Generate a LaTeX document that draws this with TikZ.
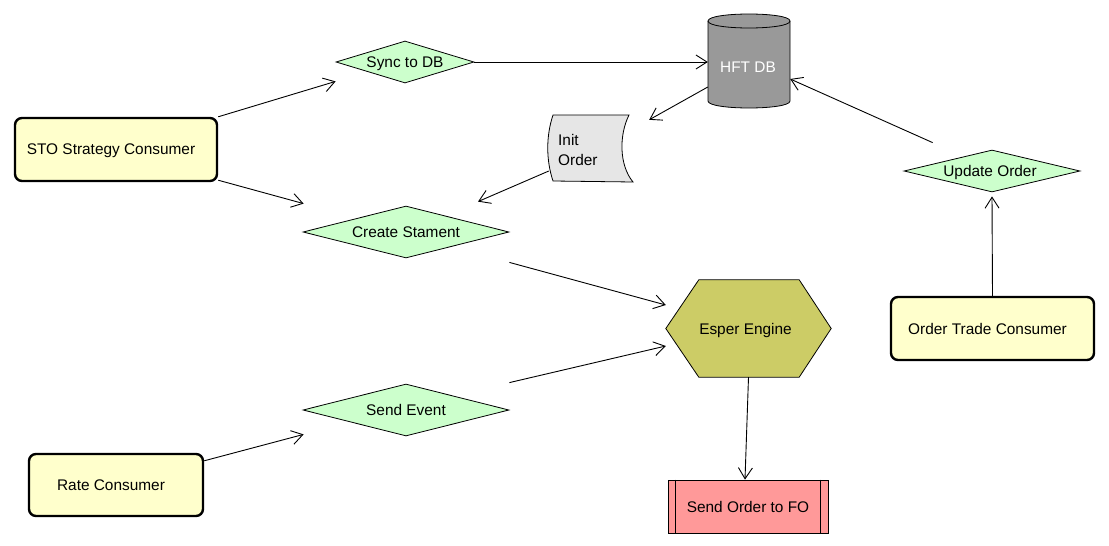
\documentclass[tikz,border=0pt]{standalone}
\usepackage{fontspec}
\setmainfont{Liberation Sans}
\usetikzlibrary{shapes.geometric,arrows.meta,calc,backgrounds}
\definecolor{consfill}{HTML}{FFFFCC}
\definecolor{decfill}{HTML}{CCFFCC}
\definecolor{dbfill}{HTML}{999999}
\definecolor{initfill}{HTML}{E6E6E6}
\definecolor{esperfill}{HTML}{CCCC66}
\definecolor{fofill}{HTML}{FF9999}
\begin{document}
\begin{tikzpicture}[x=1pt,y=-1pt,
  every node/.style={font=\fontsize{15.4}{19.5}\selectfont, inner sep=0pt, text depth=0pt},
  consumer/.style={draw, line width=2.4pt, rounded corners=7pt, fill=consfill},
  decision/.style={diamond, draw, line width=0.8pt, fill=decfill},
  shapeline/.style={draw, line width=0.8pt},
  arr/.style={draw, line width=0.9pt, -{Straight Barb[length=11pt,width=14pt]}}]
\useasboundingbox (0,0) rectangle (1109,546);

% consumers
\node[consumer, minimum width=202, minimum height=63] (sto) at (116,149.5) {STO Strategy Consumer\hspace*{10pt}};
\node[consumer, minimum width=174, minimum height=62] (rate) at (116,485) {Rate Consumer\hspace*{10pt}};
\node[consumer, minimum width=203, minimum height=63] (ot) at (992.5,328.5) {Order Trade Consumer\hspace*{10pt}};

% decisions
\node[decision, aspect=3.29, minimum width=138, minimum height=42] (sync) at (405,62) {Sync to DB};
\node[decision, aspect=3.96, minimum width=206, minimum height=52] (create) at (406,232) {Create Stament};
\node[decision, aspect=3.96, minimum width=206, minimum height=52] (send) at (406,410) {Send Event};
\node[decision, aspect=4.19, minimum width=176, minimum height=42] (upd) at (992,171) {Update Order\hspace*{4pt}};

% database
\node[minimum width=82, minimum height=95] (hft) at (749,60.5) {};
\node[text=white] (hftlabel) at (748,67.5) {HFT DB};

% init order
\node[minimum width=85, minimum height=67] (init) at (590.5,148.5) {};
\node[anchor=west, align=left, text depth=] (initlabel) at (558,150) {Init\\Order};

% esper engine
\node[minimum width=165, minimum height=97] (esper) at (748.5,328.5) {Esper Engine\hspace*{6pt}};

% send order to FO
\node[shapeline, fill=fofill, minimum width=160, minimum height=53] (fo) at (748,506.5) {Send Order to FO};
\draw[shapeline] ($(fo.north west)+(8,0)$) -- ($(fo.south west)+(8,0)$);
\draw[shapeline] ($(fo.north east)+(-8,0)$) -- ($(fo.south east)+(-8,0)$);

\begin{pgfonlayer}{background}
  % cylinder
  \fill[dbfill] (708,21) -- (708,101) .. controls (708,110.33) and (790,110.33) .. (790,101)
     -- (790,21) .. controls (790,11.67) and (708,11.67) .. (708,21) -- cycle;
  \draw[shapeline] (708,21) -- (708,101) .. controls (708,110.33) and (790,110.33) .. (790,101) -- (790,21);
  \draw[shapeline] (708,21) .. controls (708,11.67) and (790,11.67) .. (790,21)
     .. controls (790,30.33) and (708,30.33) .. (708,21) -- cycle;
  % stored data
  \draw[shapeline, fill=initfill] (553,115) -- (629,115) .. controls (619,135) and (619,165) .. (633,182)
     -- (553,181) .. controls (546,160) and (546,136) .. (553,115) -- cycle;
  % hexagon
  \draw[shapeline, fill=esperfill] (esper.west) -- ($(esper.north west)+(33,0)$) -- ($(esper.north east)+(-32,0)$)
     -- (esper.east) -- ($(esper.south east)+(-32,0)$) -- ($(esper.south west)+(33,0)$) -- cycle;
\end{pgfonlayer}

% connectors
\draw[arr] (sto.north east) -- ($(sync.west |- sync.south)+(0,-2)$);
\draw[arr] ($(sto.south east)+(0,-2)$) -- ($(create.west |- create.north)+(1,-2)$);
\draw[arr] (sync.east) -- ($(hft.west)+(0,1.5)$);
\draw[arr] ($(hft.west)+(0,26.5)$) -- ($(init.north east)+(16,5)$);
\draw[arr] ($(init.west)+(1,22.5)$) -- ($(create.north)+(72,-4)$);
\draw[arr] ($(create.east |- create.south)+(0,4)$) -- ($(esper.west)+(0,-23.5)$);
\draw[arr] ($(send.east |- send.north)+(0,-1)$) -- ($(esper.west)+(0,17.5)$);
\draw[arr] ($(rate.north east)+(0,8)$) -- ($(send.west |- send.south)+(1,-2)$);
\draw[arr] (esper.south) -- ($(fo.north)+(-3,0)$);
\draw[arr] (ot.north) -- ($(upd.south)+(0,4)$);
\draw[arr] ($(upd.west |- upd.north)+(29,-7)$) -- ($(hft.east)+(0,18.5)$);
\end{tikzpicture}
\end{document}
